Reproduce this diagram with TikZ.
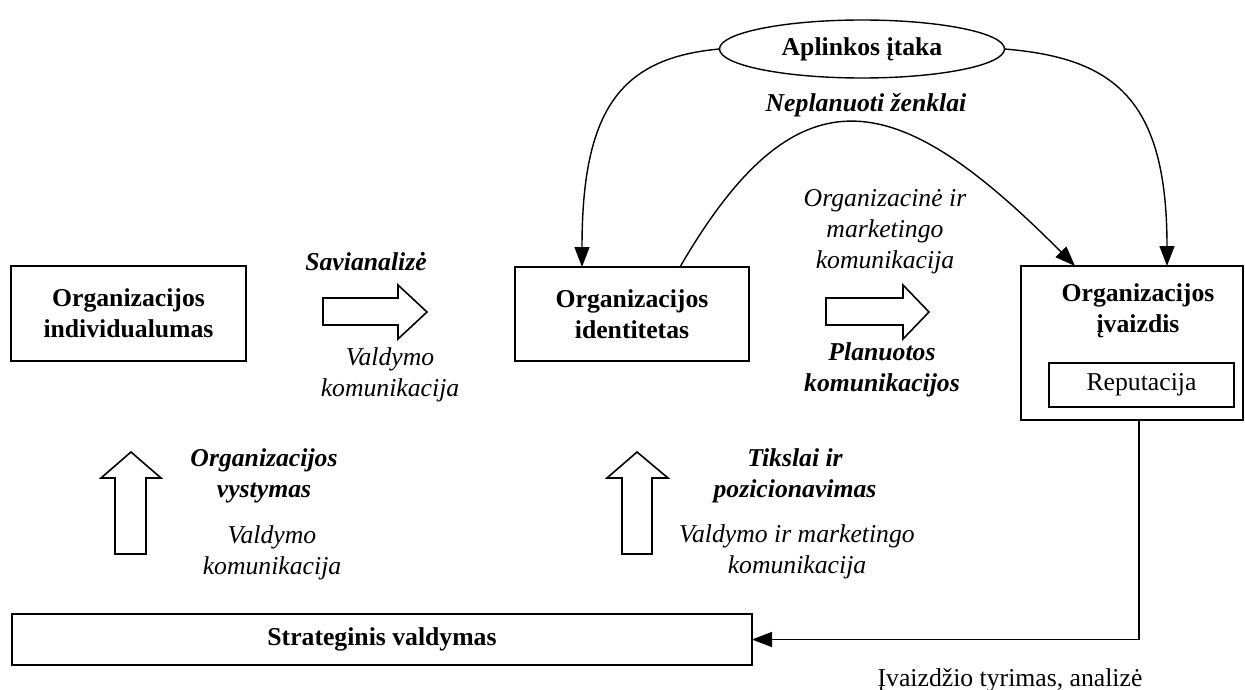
\documentclass[tikz,border=0pt]{standalone}
\usepackage{fontspec}
\setmainfont{Liberation Serif}
\usetikzlibrary{arrows.meta,shapes.geometric,calc}
\newcommand\dfs{\fontsize{25.7pt}{31pt}\selectfont}
\begin{document}
\begin{tikzpicture}[x=1pt,y=-1pt,
  every node/.style={inner sep=0pt, outer sep=0pt},
  box/.style={draw, line width=1.6pt},
  txt/.style={align=center, font=\dfs},
  bold/.style={align=center, font=\dfs\bfseries},
  bit/.style={align=center, font=\dfs\bfseries\itshape},
  itl/.style={align=center, font=\dfs\itshape},
  conn/.style={line width=1.4pt, -{Triangle[length=20pt,width=15pt]}},
  blockarrow/.style={draw, line width=1.6pt, line join=miter, fill=white}]
\useasboundingbox (0,0) rectangle (1245,690);

% main boxes
\node[box, bold, minimum width=235pt, minimum height=95pt] (ind) at (128.5,313.5) {Organizacijos\\individualumas};
\node[box, bold, minimum width=234pt, minimum height=94pt] (idt) at (632,314) {Organizacijos\\identitetas};
\node[box, minimum width=222pt, minimum height=154pt] (ivz) at (1132,343) {};
\node[bold] (ivzt) at (1138,311) {Organizacijos\\įvaizdis};
\node[draw, line width=1.2pt, txt, minimum width=185pt, minimum height=44pt] (rep) at (1141.5,385) {Reputacija};
\draw[line width=1.2pt] (rep.north west) -- ++(0,4);
\draw[line width=1.2pt] (rep.north east) -- ++(0,4);
\node[box, bold, minimum width=740pt, minimum height=51pt] (str) at (382,639.5) {Strateginis valdymas};

% environment
\node[draw, ellipse, line width=1.4pt, bold, minimum width=285pt, minimum height=58pt] (env) at (862,49) {Aplinkos įtaka};

% block arrows
\draw[blockarrow] (323,298) -- (398,298) -- (398,285) -- (427,312) -- (398,339) -- (398,325) -- (323,325) -- cycle;
\draw[blockarrow] (826,298) -- (903,298) -- (903,285) -- (929,312) -- (903,339) -- (903,325) -- (826,325) -- cycle;
\draw[blockarrow] (115,554) -- (115,478) -- (101,478) -- (131,452) -- (161,478) -- (146,478) -- (146,554) -- cycle;
\draw[blockarrow] (622,554) -- (622,478) -- (607,478) -- (637,452) -- (668,478) -- (652,478) -- (652,554) -- cycle;

% labels
\node[bit] (sav) at (366,262) {Savianalizė};
\node[itl] (vk1) at (390,375) {Valdymo\\komunikacija};
\node[itl] (omk) at (885,232) {Organizacinė ir\\marketingo\\komunikacija};
\node[bit] (plk) at (882,370) {Planuotos\\komunikacijos};
\node[bit] (nep) at (866,105) {Neplanuoti ženklai};
\node[bit] (ovs) at (264,476) {Organizacijos\\vystymas};
\node[itl] (vk2) at (272,553) {Valdymo\\komunikacija};
\node[bit] (tpz) at (795,476) {Tikslai ir\\pozicionavimas};
\node[itl] (vmk) at (797,552) {Valdymo ir marketingo\\komunikacija};
\node[txt] (ivt) at (1010,680) {Įvaizdžio tyrimas, analizė};

% connectors
\draw[conn] (env.west) .. controls (620,58) and (582,110) .. ($(idt.north west)+(67,0)$);
\draw[conn] (env.east) .. controls (1115,58) and (1167,100) .. ($(ivz.north west)+(146,0)$);
\draw[conn] ($(idt.north west)+(165,0)$) .. controls (800,60) and (900,90) .. ($(ivz.north west)+(54,0)$);
\draw[conn] ($(ivz.south west)+(118,0)$) |- (str.east);
\end{tikzpicture}
\end{document}
